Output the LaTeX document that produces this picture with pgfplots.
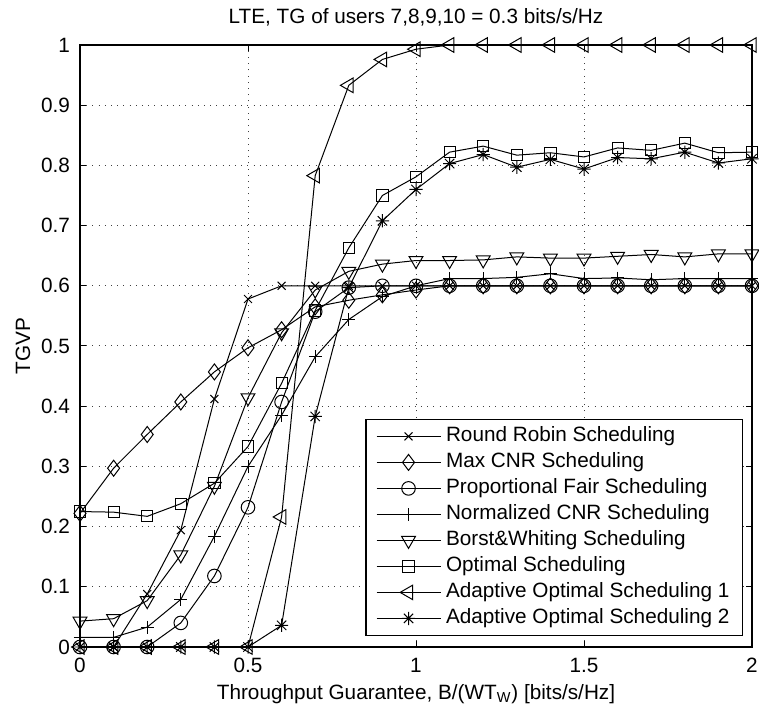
\documentclass[border=0pt]{standalone}
\usepackage{fontspec}
\setmainfont{Liberation Sans}
\usepackage{pgfplots}
\usepackage{pgfplotstable}
\pgfplotsset{compat=1.18}

% MATLAB style asterisk: plus and cross
\pgfdeclareplotmark{mlstar}{%
  \pgfpathmoveto{\pgfqpoint{-\pgfplotmarksize}{0pt}}\pgfpathlineto{\pgfqpoint{\pgfplotmarksize}{0pt}}%
  \pgfpathmoveto{\pgfqpoint{0pt}{-\pgfplotmarksize}}\pgfpathlineto{\pgfqpoint{0pt}{\pgfplotmarksize}}%
  \pgfpathmoveto{\pgfqpoint{-.707\pgfplotmarksize}{-.707\pgfplotmarksize}}\pgfpathlineto{\pgfqpoint{.707\pgfplotmarksize}{.707\pgfplotmarksize}}%
  \pgfpathmoveto{\pgfqpoint{-.707\pgfplotmarksize}{.707\pgfplotmarksize}}\pgfpathlineto{\pgfqpoint{.707\pgfplotmarksize}{-.707\pgfplotmarksize}}%
  \pgfusepathqstroke}

\pgfplotstableread{
x   rr    mcnr  pf    ncnr  bw    opt   aoa   aob
0.0 0     0.222 0     0.016 0.043 0.225 0     0
0.1 0     0.297 0     0.016 0.047 0.224 0     0
0.2 0.088 0.353 0     0.033 0.077 0.217 0     0
0.3 0.194 0.407 0.040 0.079 0.153 0.238 0     0
0.4 0.412 0.457 0.118 0.184 0.267 0.272 0     0
0.5 0.578 0.497 0.232 0.300 0.414 0.333 0     0
0.6 0.600 0.527 0.407 0.385 0.522 0.438 0.216 0.036
0.7 0.600 0.565 0.557 0.482 0.593 0.559 0.783 0.383
0.8 0.600 0.576 0.597 0.544 0.624 0.663 0.933 0.597
0.9 0.600 0.585 0.600 0.582 0.636 0.750 0.976 0.708
1.0 0.600 0.593 0.600 0.600 0.642 0.781 0.993 0.760
1.1 0.600 0.600 0.600 0.612 0.642 0.822 1     0.803
1.2 0.600 0.600 0.600 0.612 0.643 0.832 1     0.818
1.3 0.600 0.600 0.600 0.614 0.648 0.817 1     0.797
1.4 0.600 0.600 0.600 0.620 0.646 0.821 1     0.810
1.5 0.600 0.600 0.600 0.612 0.646 0.814 1     0.794
1.6 0.600 0.600 0.600 0.613 0.649 0.829 1     0.813
1.7 0.600 0.600 0.600 0.610 0.652 0.825 1     0.811
1.8 0.600 0.600 0.600 0.612 0.648 0.837 1     0.822
1.9 0.600 0.600 0.600 0.612 0.653 0.821 1     0.804
2.0 0.600 0.600 0.600 0.612 0.653 0.822 1     0.811
}\tgvp

\begin{document}
\begin{tikzpicture}[font=\fontsize{10.4}{12.5}\selectfont]
\begin{axis}[
  at={(0,0)}, anchor=south west,
  scale only axis, width=336bp, height=301bp,
  xmin=0, xmax=2, ymin=0, ymax=1,
  xtick={0,0.5,1,1.5,2},
  ytick={0,0.1,0.2,0.3,0.4,0.5,0.6,0.7,0.8,0.9,1},
  tick align=inside, major tick length=3bp,
  tick style={black, line width=0.5bp},
  grid=major,
  grid style={black!75, line width=0.5bp, dash pattern=on 0.5bp off 2.6bp},
  axis line style={line width=0.6bp},
  /pgf/number format/assume math mode=true,
  xticklabel style={yshift=-2bp},
  yticklabel style={xshift=-1.5bp},
  title={LTE, TG of users 7,8,9,10 = 0.3 bits/s/Hz},
  title style={at={(0.5,1)}, anchor=base, yshift=5bp},
  xlabel={Throughput Guarantee, B/(WT\textsubscript{W}) [bits/s/Hz]},
  xlabel style={at={(0.5,0)}, anchor=base, yshift=-26bp},
  ylabel={TGVP},
  ylabel style={at={(-0.0848,0.5)}, anchor=center},
  clip=false,
  every axis plot/.append style={black, line width=0.5bp, mark options={solid, line width=0.5bp}},
  legend image code/.code={\draw[mark repeat=2,mark phase=2] plot coordinates {(0bp,0bp)(16bp,0bp)(32bp,0bp)};},
  legend cell align=left,
  legend style={at={(1,0)}, anchor=south east, xshift=-4.5bp, yshift=5.5bp,
    draw=black, line width=0.6bp, fill=white,
    inner xsep=5bp, inner ysep=2bp, row sep=0pt, column sep=1bp,
    nodes={inner sep=1.5bp, text height=7.5bp, text depth=2.5bp},
    font=\fontsize{10.4}{12.5}\selectfont},
]
\addplot[mark=x, mark size=2.8bp] table[x=x, y=rr] {\tgvp};
\addlegendentry{Round Robin Scheduling}
\addplot[mark=diamond, mark size=4bp] table[x=x, y=mcnr] {\tgvp};
\addlegendentry{Max CNR Scheduling}
\addplot[mark=o, mark size=3.4bp] table[x=x, y=pf] {\tgvp};
\addlegendentry{Proportional Fair Scheduling}
\addplot[mark=+, mark size=3.2bp] table[x=x, y=ncnr] {\tgvp};
\addlegendentry{Normalized CNR Scheduling}
\addplot[mark=triangle, mark size=4bp, mark options={rotate=180}] table[x=x, y=bw] {\tgvp};
\addlegendentry{Borst\&Whiting Scheduling}
\addplot[mark=square, mark size=2.8bp] table[x=x, y=opt] {\tgvp};
\addlegendentry{Optimal Scheduling}
\addplot[mark=triangle, mark size=4.2bp, mark options={rotate=90}] table[x=x, y=aoa] {\tgvp};
\addlegendentry{Adaptive Optimal Scheduling 1}
\addplot[mark=mlstar, mark size=3.3bp] table[x=x, y=aob] {\tgvp};
\addlegendentry{Adaptive Optimal Scheduling 2}
\end{axis}
\pgfresetboundingbox
\path (-40bp,-31.5bp) rectangle (339.5bp,323.5bp);
\end{tikzpicture}
\end{document}
